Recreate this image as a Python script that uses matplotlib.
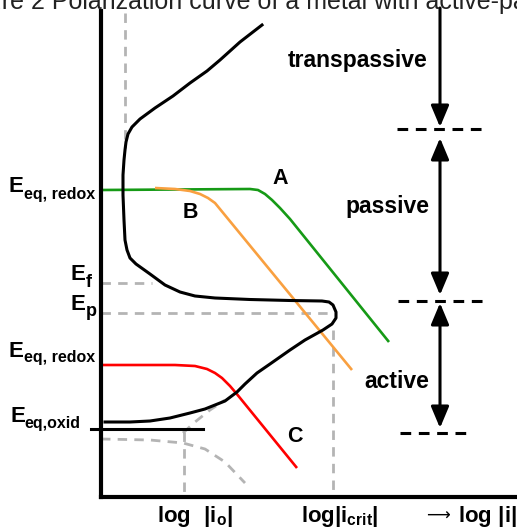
import matplotlib
matplotlib.use("Agg")
import matplotlib.pyplot as plt

plt.rcParams['font.family'] = ['Liberation Sans', 'DejaVu Sans']
plt.rcParams['mathtext.fontset'] = 'custom'
plt.rcParams['mathtext.rm'] = 'Liberation Sans:bold'
plt.rcParams['mathtext.it'] = 'Liberation Sans:bold'
plt.rcParams['mathtext.bf'] = 'Liberation Sans:bold'

# schematic drawn in picture units (x to the right, y downward)
#=========================================================================
# DATA
#=========================================================================
# anodic polarization curve of the metal (black)
metal_x = [262, 240, 220, 207, 190, 173, 155, 140, 132, 128, 126, 125, 124, 123, 123, 124,
           125, 127, 130, 136, 150, 165, 180, 195, 215, 250, 290, 322, 329, 333, 336, 336,
           332, 323, 305, 290, 270, 257, 245, 237, 225, 205, 190, 170, 150, 130, 105]
metal_y = [25, 42, 60, 71, 83, 96, 108, 119, 127, 134, 142, 150, 160, 175, 195, 220,
           240, 250, 258, 264, 274, 285, 292, 296, 298, 299.5, 300.5, 301, 302, 305, 312, 318,
           324, 330, 340, 350, 364, 373, 384, 392, 401, 409, 413, 418, 421, 422, 422]

# cathodic curves A, B, C
a_x = [101, 250, 258, 265, 272, 280, 290, 389]
a_y = [190, 189, 190, 194, 200, 208, 219, 342]
b_x = [155, 175, 190, 200, 208, 215, 352]
b_y = [188, 189, 191, 194, 198, 203, 370]
c_x = [101, 175, 195, 207, 215, 222, 230, 236, 297]
c_y = [365, 365, 366, 369, 373, 378, 386, 393, 468]

# dashed extensions of the metal curve
cath_ext_x = [101, 150, 183, 205, 225, 245]
cath_ext_y = [439, 440, 443, 449, 462, 483]
anod_ext_x = [183, 195, 210, 225]
anod_ext_y = [433, 422, 410, 400]

# levels
y_eq_redox = 190
y_f = 283
y_p = 313
y_eq_oxid = 429
x_io = 184
x_crit = 333
x_passive_limit = 125
y_trans = 129
y_act_top = 301
y_act_bot = 433
y_axis = 497
x_axis = 101

#=========================================================================
# PLOT
#=========================================================================
fig = plt.figure(figsize=(5.17, 5.31), dpi=100)
ax = fig.add_axes([0, 0, 1, 1])
ax.set_xlim(0, 517)
ax.set_ylim(531, 0)
ax.axis('off')

gray = '#b4b4b4'
dash = (0, (3.4, 2.6))

# gray guide lines
ax.plot([x_passive_limit, x_passive_limit], [13, 148], color=gray, lw=2, ls=dash)
ax.plot([x_axis, 152], [y_f, y_f], color=gray, lw=2, ls=dash)
ax.plot([x_axis, 334], [y_p, y_p], color=gray, lw=2, ls=dash)
ax.plot([x_crit, x_crit], [330, y_axis], color=gray, lw=2, ls=dash)
ax.plot([x_io, x_io], [432, y_axis], color=gray, lw=2, ls=dash)
ax.plot(cath_ext_x, cath_ext_y, color=gray, lw=2, ls=dash)
ax.plot(anod_ext_x, anod_ext_y, color=gray, lw=2, ls=dash)

# curves
ax.plot(a_x, a_y, color='#169a16', lw=1.9, solid_capstyle='butt')
ax.plot(b_x, b_y, color='#f9a040', lw=1.9, solid_capstyle='butt')
ax.plot(c_x, c_y, color='#ff0000', lw=1.9, solid_capstyle='butt')
ax.plot(metal_x, metal_y, color='black', lw=2.2, solid_joinstyle='round')
ax.plot([91, 203], [y_eq_oxid, y_eq_oxid], color='black', lw=2.2)

# axes
ax.plot([x_axis, x_axis], [11, y_axis], color='black', lw=3, solid_capstyle='projecting')
ax.plot([x_axis, 517], [y_axis, y_axis], color='black', lw=3, solid_capstyle='projecting')

# regions on the right
kdash = (0, (3.5, 2.5))
ax.plot([397, 482], [y_trans, y_trans], color='black', lw=2.2, ls=kdash)
ax.plot([398, 483], [y_act_top, y_act_top], color='black', lw=2.2, ls=kdash)
ax.plot([400, 473], [y_act_bot, y_act_bot], color='black', lw=2.2, ls=kdash)

head = dict(color='black', lw=2.2, shrinkA=0, shrinkB=0, mutation_scale=13)
ax.annotate('', xy=(440, y_trans - 2), xytext=(440, 8),
            arrowprops=dict(arrowstyle='-|>,head_length=1.0,head_width=0.42', **head))
ax.annotate('', xy=(440, y_act_top - 6), xytext=(440, y_trans + 9),
            arrowprops=dict(arrowstyle='<|-|>,head_length=1.0,head_width=0.42', **head))
ax.annotate('', xy=(440, y_act_bot - 5), xytext=(440, y_act_top + 2),
            arrowprops=dict(arrowstyle='<|-|>,head_length=1.0,head_width=0.42', **head))

ax.text(358, 60, 'transpassive', fontsize=16.5, fontweight='bold', ha='center', va='center')
ax.text(387, 207, 'passive', fontsize=16.5, fontweight='bold', ha='center', va='center')
ax.text(397, 382, 'active', fontsize=16.5, fontweight='bold', ha='center', va='center')

ax.text(280, 178, 'A', fontsize=15.5, fontweight='bold', ha='center', va='center')
ax.text(190, 212, 'B', fontsize=15.5, fontweight='bold', ha='center', va='center')
ax.text(295, 437, 'C', fontsize=15.5, fontweight='bold', ha='center', va='center')


def e_label(x, y, sub, dy=7, size=12):
    ax.text(x, y, 'E', fontsize=16, fontweight='bold', ha='left', va='baseline')
    ax.text(x + 14.5, y + dy, sub, fontsize=size, fontweight='bold', ha='left', va='baseline')


e_label(9, 192, 'eq, redox', size=11.5)
e_label(71, 280, 'f', size=13)
e_label(71, 310, 'p', size=13, dy=6)
e_label(9, 357, 'eq, redox', dy=5, size=11.5)
e_label(10, 422, 'eq,oxid', dy=6, size=11.5)

# x-axis labels
ax.text(195, 522, r'$\mathrm{log}\ \ |\mathrm{i_o}|$', fontsize=16, ha='center', va='baseline')
ax.text(340, 522, r'$\mathrm{log|i_{crit}|}$', fontsize=16, ha='center', va='baseline')
ax.text(438, 516, '\u27f6', fontsize=12, family=['DejaVu Sans'], ha='center', va='center')
ax.text(487, 522, r'$\mathrm{log}\ |\mathrm{i}|$', fontsize=16, ha='center', va='baseline')

# clipped caption at the very top
ax.text(-26, 8.5, 'gure 2 Polarization curve of a metal with active-passive behavior',
        fontsize=18, fontweight='normal', ha='left', va='baseline', color='#222222')

fig.savefig('out.png', dpi=100)
